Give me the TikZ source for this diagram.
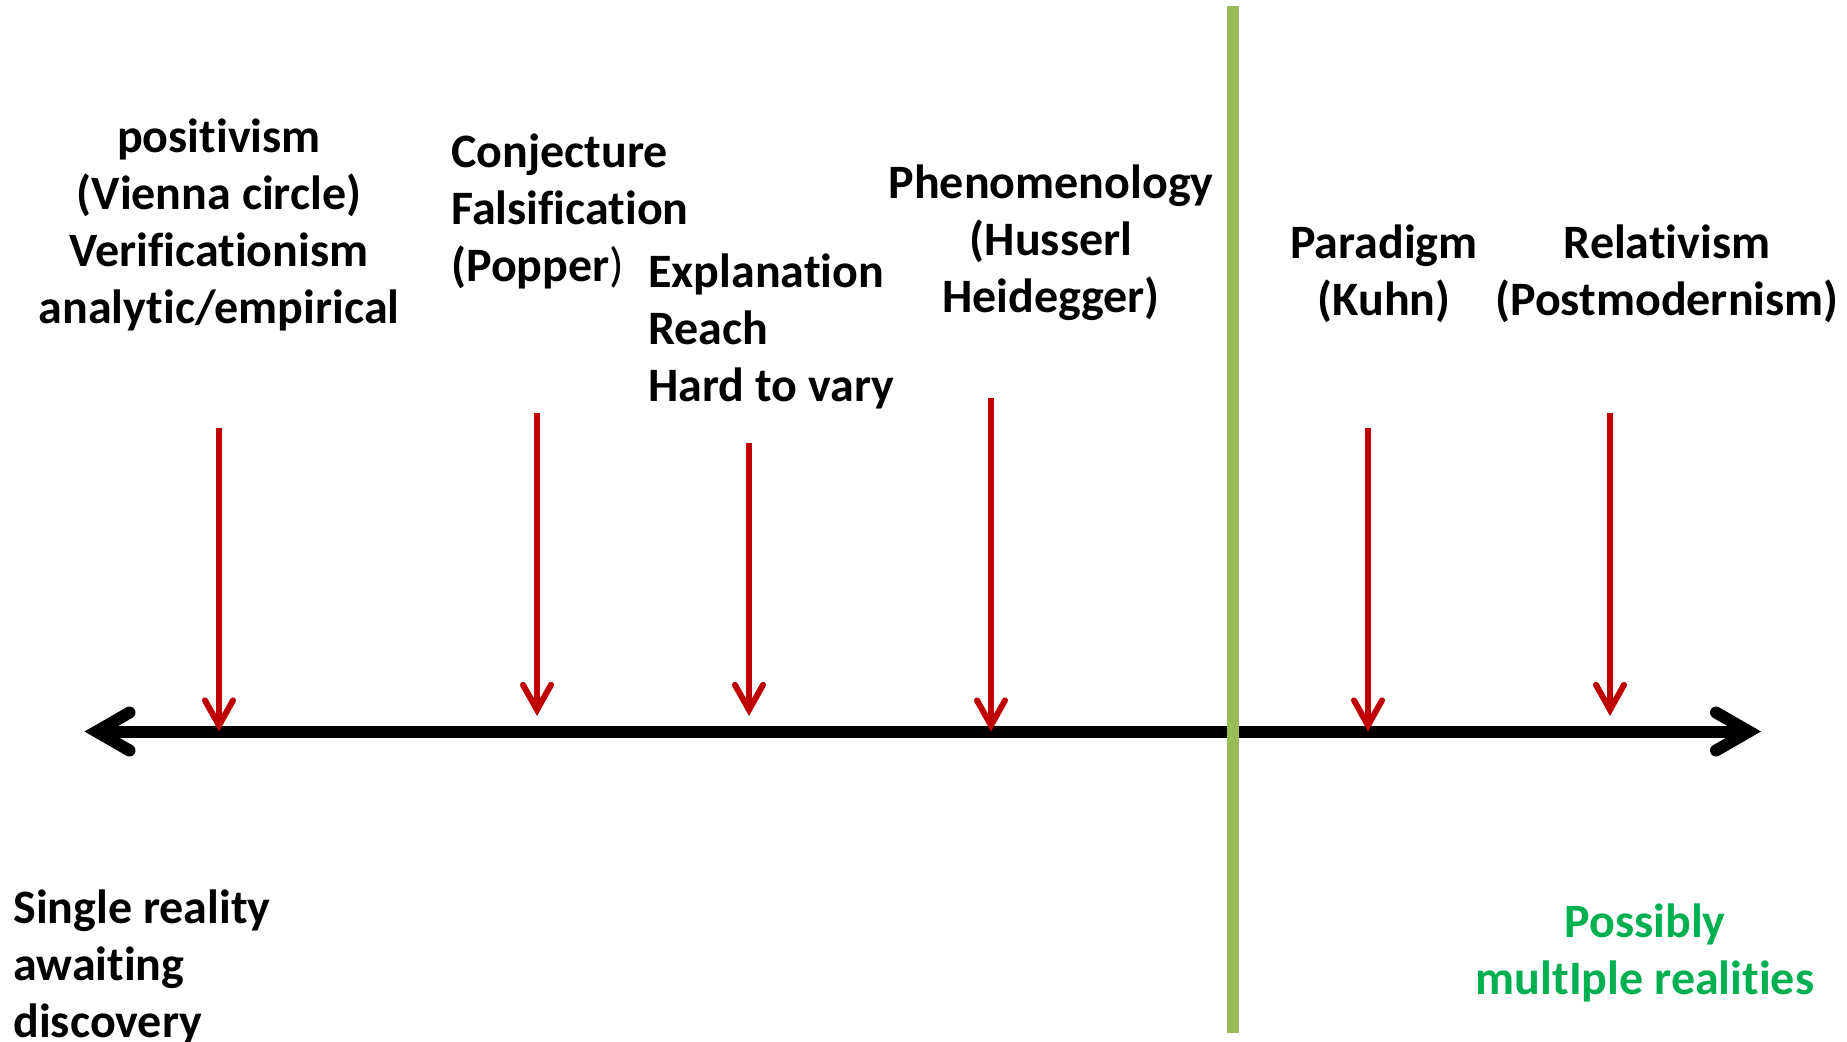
\documentclass[tikz,border=0pt]{standalone}
\usepackage{fontspec}
\setmainfont{Carlito}[Ligatures={NoCommon,NoContextual}, RawFeature={-calt}]
\usetikzlibrary{arrows.meta}
\definecolor{arrowred}{HTML}{C00000}
\definecolor{divgreen}{HTML}{9BBB59}
\definecolor{txtgreen}{HTML}{00B050}
\tikzset{
  lbl/.style={inner sep=0pt, font=\fontsize{24}{28.5}\selectfont\bfseries},
  axisline/.style={line width=6pt, black,
    {Straight Barb[length=16.5pt, width=19pt, line cap=round, line join=miter]}-{Straight Barb[length=16.5pt, width=19pt, line cap=round, line join=miter]}},
  redarrow/.style={line width=3pt, arrowred,
    -{Straight Barb[length=12.5pt, width=14pt, line cap=round, line join=miter]}},
  divider/.style={line width=6pt, divgreen},
}
\begin{document}
\begin{tikzpicture}[x=0.5pt, y=-0.5pt]
\useasboundingbox (0,0) rectangle (1847,1041);

% text blocks
\node[lbl, anchor=base] (positivism) at (219,152.5)
  {\begin{tabular}[t]{@{}c@{}}positivism\\(Vienna circle)\\Verificationism\\analytic/empirical\end{tabular}};
\node[lbl, anchor=base west] (popper) at (451,167)
  {\begin{tabular}[t]{@{}l@{}}Conjecture\\Falsification\\(Popper\textmd{)}\end{tabular}};
\node[lbl, anchor=base west] (explanation) at (648,287.5)
  {\begin{tabular}[t]{@{}l@{}}Explanation\\Reach\\Hard to vary\end{tabular}};
\node[lbl, anchor=base] (phenom) at (1051,198.5)
  {\begin{tabular}[t]{@{}c@{}}Phenomenology\\(Husserl\\Heidegger)\end{tabular}};
\node[lbl, anchor=base] (kuhn) at (1384,258.5)
  {\begin{tabular}[t]{@{}c@{}}Paradigm\\(Kuhn)\end{tabular}};
\node[lbl, anchor=base] (relativism) at (1667,258.5)
  {\begin{tabular}[t]{@{}c@{}}Relativism\\(Postmodernism)\end{tabular}};
\node[lbl, anchor=base west] (single) at (13,923)
  {\begin{tabular}[t]{@{}l@{}}Single reality\\awaiting\\discovery\end{tabular}};
\node[lbl, anchor=base, text=txtgreen] (multiple) at (1645,937.5)
  {\begin{tabular}[t]{@{}c@{}}Possibly\\multIple realities\end{tabular}};

% axis
\coordinate (axL) at (84.5,731.5);
\coordinate (axR) at (1761,731.5);
\draw[axisline] (axL) -- (axR);

% red arrows
\coordinate (t1) at (219,428);  \coordinate (h1) at (219,731.5);
\coordinate (t2) at (537,413);  \coordinate (h2) at (537,716);
\coordinate (t3) at (749,443);  \coordinate (h3) at (749,716);
\coordinate (t4) at (991,398);  \coordinate (h4) at (991,731.5);
\coordinate (t5) at (1368,428); \coordinate (h5) at (1368,731.5);
\coordinate (t6) at (1610,413); \coordinate (h6) at (1610,716);
\foreach \i in {1,...,6} { \draw[redarrow] (t\i) -- (h\i); }

% divider
\coordinate (gTop) at (1232.7,5.7);
\coordinate (gBot) at (1232.7,1033.3);
\draw[divider] (gTop) -- (gBot);
\end{tikzpicture}
\end{document}
